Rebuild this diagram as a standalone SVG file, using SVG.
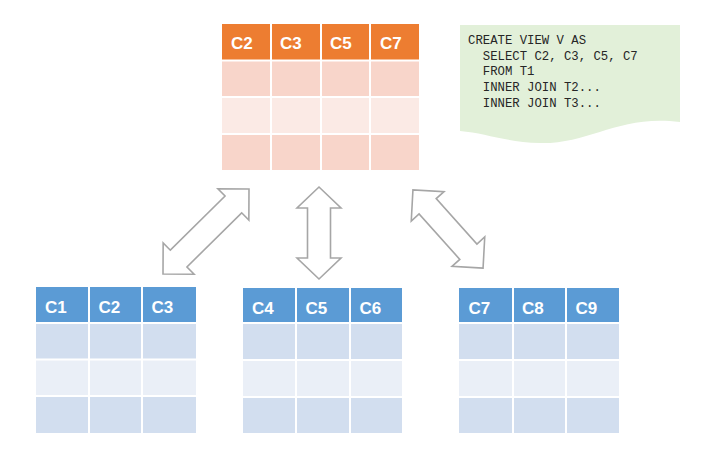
<svg xmlns="http://www.w3.org/2000/svg" width="711" height="453" viewBox="0 0 711 453">
<style>
.hdrO{fill:#ED7D31}.r1O{fill:#F8D5CA}.r2O{fill:#FBEAE5}
.hdrB{fill:#5B9BD5}.r1B{fill:#D2DEEF}.r2B{fill:#EAEFF7}
.grid{stroke:#fff;stroke-width:2;fill:none}
.ht{font-family:"Liberation Sans",Arial,sans-serif;font-weight:bold;font-size:17px;fill:#fff}
.sql{font-family:"Liberation Mono","Courier New",monospace;font-size:12.3px;fill:#262626}
.arr{fill:#fff;stroke:#A6A6A6;stroke-width:1.6;stroke-linejoin:miter}
</style>
<defs>
<polygon id="a121" points="60.5,0 38.5,22 38.5,11.8 -38.5,11.8 -38.5,22 -60.5,0 -38.5,-22 -38.5,-11.8 38.5,-11.8 38.5,-22"/>
<polygon id="a92" points="46,0 25,22 25,11.5 -25,11.5 -25,22 -46,0 -25,-22 -25,-11.5 25,-11.5 25,-22"/>
<polygon id="a105" points="52.5,0 30.5,22 30.5,11.5 -30.5,11.5 -30.5,22 -52.5,0 -30.5,-22 -30.5,-11.5 30.5,-11.5 30.5,-22"/>
</defs>

<g id="view-table">
<rect class="hdrO" x="222" y="24" width="197" height="36"/>
<rect class="r1O" x="222" y="60" width="197" height="37"/>
<rect class="r2O" x="222" y="97" width="197" height="37"/>
<rect class="r1O" x="222" y="134" width="197" height="36"/>
<path class="grid" d="M271,24V170M321,24V170M370,24V170M222,60.5H419M222,97H419M222,134H419"/>
<text class="ht" x="231" y="49">C2</text>
<text class="ht" x="280" y="49">C3</text>
<text class="ht" x="330" y="49">C5</text>
<text class="ht" x="380" y="49">C7</text>
</g>

<g id="sql-note">
<path d="M460,25H680V122C620,114 590,144 540,143C505,142 485,133 460,131Z" fill="#E2F0D9"/>
<text class="sql" x="468" y="44">CREATE VIEW V AS</text>
<text class="sql" x="468" y="59.7" xml:space="preserve">  SELECT C2, C3, C5, C7</text>
<text class="sql" x="468" y="75.4" xml:space="preserve">  FROM T1</text>
<text class="sql" x="468" y="91.1" xml:space="preserve">  INNER JOIN T2...</text>
<text class="sql" x="468" y="106.8" xml:space="preserve">  INNER JOIN T3...</text>
</g>

<g id="table-1">
<rect class="hdrB" x="36" y="287" width="160" height="36"/>
<rect class="r1B" x="36" y="323" width="160" height="36.5"/>
<rect class="r2B" x="36" y="359.5" width="160" height="36.5"/>
<rect class="r1B" x="36" y="396" width="160" height="37"/>
<path class="grid" d="M89,287V433M142,287V433M36,323H196M36,359.5H196M36,396H196"/>
<text class="ht" x="45" y="313">C1</text>
<text class="ht" x="98.5" y="313">C2</text>
<text class="ht" x="151.5" y="313">C3</text>
</g>

<g id="table-2">
<rect class="hdrB" x="243" y="288" width="159" height="35"/>
<rect class="r1B" x="243" y="323" width="159" height="37"/>
<rect class="r2B" x="243" y="360" width="159" height="37"/>
<rect class="r1B" x="243" y="397" width="159" height="36"/>
<path class="grid" d="M296,288V433M350,288V433M243,323H402M243,360H402M243,397H402"/>
<text class="ht" x="252" y="313.5">C4</text>
<text class="ht" x="305.5" y="313.5">C5</text>
<text class="ht" x="359.5" y="313.5">C6</text>
</g>

<g id="table-3">
<rect class="hdrB" x="459" y="288" width="160" height="35"/>
<rect class="r1B" x="459" y="323" width="160" height="37"/>
<rect class="r2B" x="459" y="360" width="160" height="37"/>
<rect class="r1B" x="459" y="397" width="160" height="36"/>
<path class="grid" d="M513,288V433M566,288V433M459,323H619M459,360H619M459,397H619"/>
<text class="ht" x="468.5" y="313.5">C7</text>
<text class="ht" x="522" y="313.5">C8</text>
<text class="ht" x="575.5" y="313.5">C9</text>
</g>

<g id="connectors">
<use href="#a121" class="arr" transform="translate(206,231.5) rotate(-44.7)"/>
<use href="#a92" class="arr" transform="translate(319,233) rotate(90)"/>
<use href="#a105" class="arr" transform="translate(448,229) rotate(48.1)"/>
</g>
</svg>
